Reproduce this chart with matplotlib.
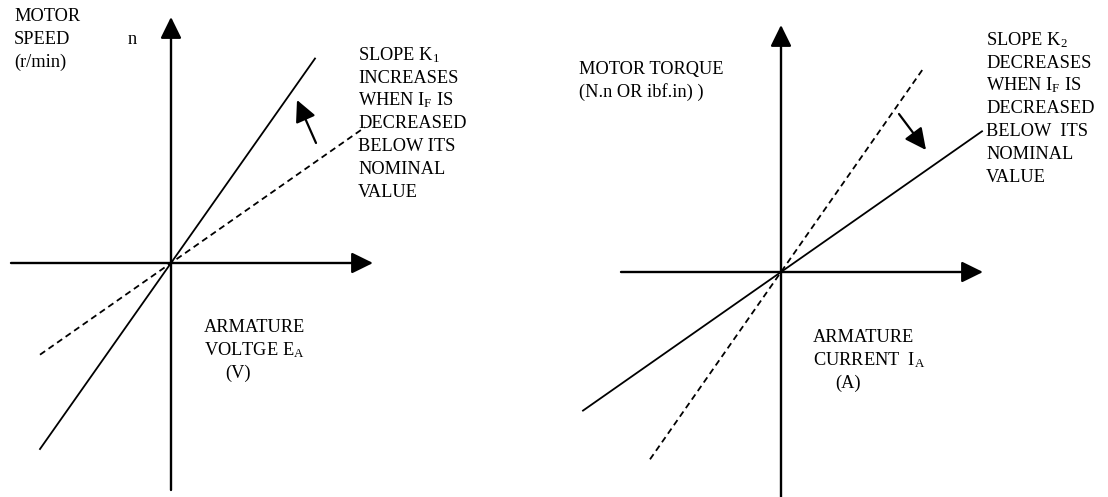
import matplotlib
matplotlib.use("Agg")
import matplotlib.pyplot as plt
import numpy as np

plt.rcParams['font.family'] = ['Liberation Serif', 'DejaVu Serif']
plt.rcParams['mathtext.fontset'] = 'custom'
plt.rcParams['mathtext.rm'] = 'Liberation Serif'
plt.rcParams['lines.scale_dashes'] = False

# slopes of the characteristic lines (pixel units per pixel), solid then dashed
speed_slopes = [1.42, 0.70]
speed_x_ranges = [(-131, 144), (-131, 194)]
torque_slopes = [0.70, 1.43]
torque_x_ranges = [(-198, 201), (-131, 143)]

speed_label = ["MOTOR", "SPEED", "(r/min)"]
speed_note = ["SLOPE K$\\mathregular{_1}$", "INCREASES", "WHEN I$\\mathregular{_F}$ IS",
              "DECREASED", "BELOW ITS", "NOMINAL", "VALUE"]
voltage_label = ["ARMATURE", "VOLTGE E$\\mathregular{_A}$"]
torque_label = ["MOTOR TORQUE", "(N.n OR ibf.in) )"]
torque_note = ["SLOPE K$\\mathregular{_2}$", "DECREASES", "WHEN I$\\mathregular{_F}$ IS",
               "DECREASED", "BELOW  ITS", "NOMINAL", "VALUE"]
current_label = ["ARMATURE", "CURRENT  I$\\mathregular{_A}$"]

FS = 13.2
STEP = 22.8


def arrow(ax, start, tip, lw=1.7, hl=1.3, hw=0.64):
    ax.annotate('', xy=tip, xytext=start,
                arrowprops=dict(arrowstyle='-|>,head_length=%g,head_width=%g' % (hl, hw),
                                lw=lw, color='k', mutation_scale=10,
                                shrinkA=0, shrinkB=0))


def lines_of_text(ax, x, y0, lines):
    for j, s in enumerate(lines):
        ax.text(x, y0 + j * STEP, s, fontsize=FS, va='baseline', ha='left')


def panel(ax, ox, oy, slopes, x_ranges, xaxis, yaxis):
    # axes with arrow heads
    arrow(ax, (ox + xaxis[0], oy), (ox + xaxis[1], oy))
    arrow(ax, (ox, oy + yaxis[0]), (ox, oy - yaxis[1]))
    styles = ['-', '--']
    for k, (x0, x1), ls in zip(slopes, x_ranges, styles):
        x = np.array([x0, x1])
        ln, = ax.plot(ox + x, oy - k * x, color='k', lw=1.3, linestyle=ls)
        if ls == '--':
            ln.set_dashes((4.5, 3))


fig = plt.figure(figsize=(11.08, 4.97), dpi=100)
ax = fig.add_axes([0, 0, 1, 1])
ax.set_xlim(0, 1108)
ax.set_ylim(497, 0)
ax.axis('off')

# left: speed vs armature voltage
panel(ax, 171, 263, speed_slopes, speed_x_ranges, (-160, 202), (227, 246))
arrow(ax, (316, 143), (297, 100), lw=1.6)
lines_of_text(ax, 14, 21, speed_label)
ax.text(128, 21 + STEP, "n", fontsize=FS, va='baseline')
lines_of_text(ax, 358, 60, speed_note)
lines_of_text(ax, 204, 332, voltage_label)
ax.text(225, 332 + 2 * STEP, "(V)", fontsize=FS, va='baseline')

# right: torque vs armature current
panel(ax, 781, 272, torque_slopes, torque_x_ranges, (-160, 202), (230, 247))
arrow(ax, (899, 114), (926, 150), lw=1.6)
lines_of_text(ax, 579, 74, torque_label)
lines_of_text(ax, 986, 45, torque_note)
lines_of_text(ax, 813, 342, current_label)
ax.text(835, 342 + 2 * STEP, "(A)", fontsize=FS, va='baseline')

fig.savefig("out.png", dpi=100)
